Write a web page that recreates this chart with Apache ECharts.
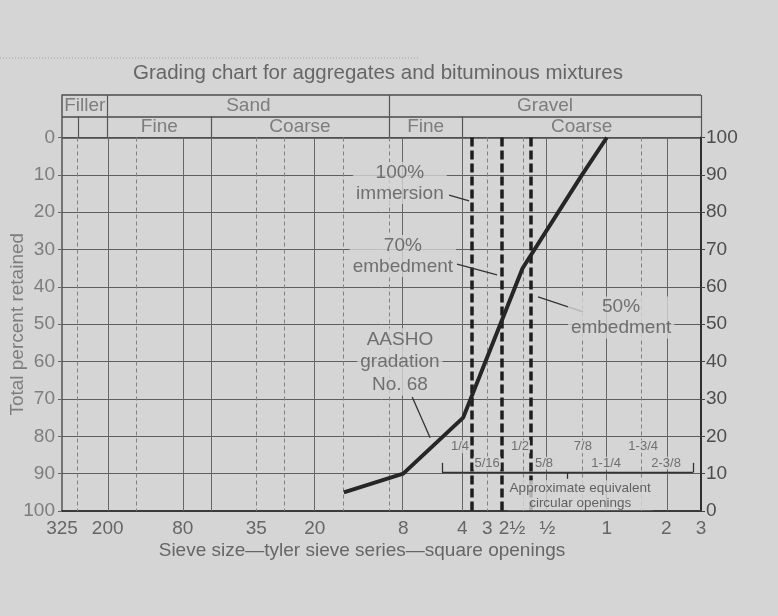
<!DOCTYPE html>
<html>
<head>
<meta charset="utf-8">
<script src="https://cdn.jsdelivr.net/npm/echarts@6/dist/echarts.min.js"></script>
<style>
  html, body { margin: 0; padding: 0; background: #d5d5d5; }
  #chart { width: 778px; height: 616px; }
</style>
</head>
<body>
<div id="chart"></div>
<script>
// Sieve openings are kept in millimetres and plotted on a log scale.
const lg = mm => Math.log10(mm);

// Bottom axis: tyler sieve numbers, then square openings in inches
const sieveLabels = ['325', '200', '80', '35', '20', '8', '4', '3', '2½', '½', '1', '2', '3'];
const sieveLabelMm = [0.044, 0.075, 0.18, 0.425, 0.84, 2.36, 4.7, 6.3, 8.4, 12.7, 25.4, 50.8, 76.2];

// Percent scales (retained on the left, passing on the right)
const retainedTicks = [0, 10, 20, 30, 40, 50, 60, 70, 80, 90, 100];

// AASHO gradation No. 68: sieve opening (mm) and total percent retained
const gradationMm = [1.18, 2.36, 4.75, 9.5, 19.0, 25.4];
const gradationRetained = [95, 90, 75, 35, 10, 0];

// Vertical rulings of the chart paper (mm)
const solidRulingMm = [0.075, 0.18, 0.25, 0.84, 2.36, 4.7, 12.7, 25.4, 50.8];
const dashedRulingMm = [0.053, 0.105, 0.425, 0.59, 1.17, 2.0, 6.3, 9.5, 19.0, 38.1];

// Size limits for the coating conditions (mm)
const coatingLimitMm = [5.25, 7.35, 10.5];

// Approximate equivalent circular openings (inches) and where they sit (mm)
const circularLabels = ['1/4', '1/2', '7/8', '1-3/4', '5/16', '5/8', '1-1/4', '2-3/8'];
const circularLabelMm = [4.58, 9.22, 19.2, 38.8, 6.28, 12.2, 25.2, 50.7];

// Size classes shown in the header band
const classNames = ['Filler', 'Sand', 'Gravel'];
const classLimitsMm = [0.044, 0.075, 2.0, 76.2];
const subclassNames = ['Fine', 'Coarse', 'Fine', 'Coarse'];
const subclassLimitsMm = [0.075, 0.25, 2.0, 4.7, 76.2];

const BG = '#d5d5d5';
const FONT = 'Liberation Sans, Arial, sans-serif';
const xMin = lg(sieveLabelMm[0]);
const xMax = lg(sieveLabelMm[sieveLabelMm.length - 1]);
const sieveTickPos = sieveLabelMm.map(lg);

const mid = (a, b) => (lg(a) + lg(b)) / 2;

const headerLabels = classNames.map((n, i) => ({
  name: n, value: [mid(classLimitsMm[i], classLimitsMm[i + 1]), 0.5]
})).concat(subclassNames.map((n, i) => ({
  name: n, value: [mid(subclassLimitsMm[i], subclassLimitsMm[i + 1]), 1.5]
})));

const vLine = (x, y0, y1) => [{ coord: [x, y0] }, { coord: [x, y1] }];
const seg = (x0, y0, x1, y1) => [{ coord: [x0, y0] }, { coord: [x1, y1] }];

const blank = { show: false };
const plainLine = (extra) => Object.assign({
  type: 'line', data: [], silent: true, symbol: 'none'
}, extra);

const annotationLabel = {
  show: true, position: 'inside', formatter: '{b}',
  color: '#555', fontSize: 19, lineHeight: 21, fontFamily: FONT,
  backgroundColor: BG, padding: [0, 3]
};

const option = {
  backgroundColor: BG,
  animation: false,
  textStyle: { fontFamily: FONT },
  title: {
    text: 'Grading chart for aggregates and bituminous mixtures',
    left: 133, top: 63, padding: 0,
    textStyle: { fontSize: 20.5, fontWeight: 'normal', color: '#666', fontFamily: FONT }
  },
  graphic: [{
    type: 'line', shape: { x1: 0, y1: 58, x2: 420, y2: 58 }, silent: true,
    style: { stroke: '#a0a0a0', lineWidth: 1, lineDash: [1, 2] }
  }],
  grid: [
    { left: 62, right: 77, top: 137.5, height: 373.5, outerBoundsMode: 'none', containLabel: false },
    { left: 62, right: 77, top: 95, height: 42.5, outerBoundsMode: 'none', containLabel: false }
  ],
  xAxis: [{
    type: 'value', gridIndex: 0, min: xMin, max: xMax,
    name: 'Sieve size—tyler sieve series—square openings',
    nameLocation: 'middle', nameGap: 30, nameMoveOverlap: false,
    nameTextStyle: { fontSize: 19, color: '#666', padding: [0, 39, 0, 0] },
    axisLine: { show: true, onZero: false, lineStyle: { color: '#3a3a3a', width: 2 } },
    axisTick: { show: false },
    splitLine: { show: false },
    axisLabel: {
      customValues: sieveTickPos, margin: 8, fontSize: 19, color: '#666',
      formatter: v => {
        const i = sieveTickPos.findIndex(p => Math.abs(p - v) < 1e-9);
        return i >= 0 ? sieveLabels[i] : '';
      }
    }
  }, {
    type: 'value', gridIndex: 1, min: xMin, max: xMax, show: false,
    axisLine: { onZero: false }
  }],
  yAxis: [{
    type: 'value', gridIndex: 0, inverse: true, min: 0, max: 100, interval: 10,
    name: 'Total percent retained', nameLocation: 'middle', nameGap: 35,
    nameMoveOverlap: false,
    nameTextStyle: { fontSize: 19, color: '#7d7d7d' },
    axisLine: { show: true, onZero: false, lineStyle: { color: '#555', width: 1.5 } },
    axisTick: { show: true, length: 4, lineStyle: { color: '#666' } },
    axisLabel: { margin: 7, fontSize: 19, color: '#7d7d7d' },
    splitLine: { show: true, lineStyle: { color: '#5e5e5e', width: 1 } }
  }, {
    type: 'value', gridIndex: 0, position: 'right', min: 0, max: 100, interval: 10,
    axisLine: { show: true, onZero: false, lineStyle: { color: '#2e2e2e', width: 2 } },
    axisTick: { show: true, length: 4, lineStyle: { color: '#444' } },
    axisLabel: { margin: 5, fontSize: 19, color: '#4d4d4d' },
    splitLine: { show: false }
  }, {
    type: 'value', gridIndex: 1, inverse: true, min: 0, max: 2, interval: 1,
    axisLine: { show: true, onZero: false, lineStyle: { color: '#555', width: 1.5 } },
    axisTick: { show: false }, axisLabel: { show: false },
    splitLine: { show: true, lineStyle: { color: '#4a4a4a', width: 1.5 } }
  }],
  series: [
    // header band: class names
    {
      type: 'scatter', xAxisIndex: 1, yAxisIndex: 2, symbolSize: 0, silent: true,
      data: headerLabels,
      label: { show: true, position: 'inside', formatter: '{b}', fontSize: 19, color: '#666' }
    },
    // header band: dividers
    plainLine({
      xAxisIndex: 1, yAxisIndex: 2,
      markLine: {
        silent: true, symbol: 'none', label: blank,
        lineStyle: { color: '#555', width: 1.2, type: 'solid' },
        data: [
          vLine(lg(classLimitsMm[1]), 0, 1),
          vLine(lg(classLimitsMm[2]), 0, 1),
          vLine(lg(subclassLimitsMm[0]), 1, 2),
          vLine(lg(subclassLimitsMm[1]), 1, 2),
          vLine(lg(subclassLimitsMm[2]), 1, 2),
          vLine(lg(subclassLimitsMm[3]), 1, 2),
          Object.assign(vLine(lg(0.053), 1, 2), { lineStyle: { color: '#777', type: [3, 2], width: 1 } }),
          Object.assign(vLine(xMax, 0, 2), { lineStyle: { color: '#2e2e2e', width: 2 } })
        ]
      }
    }),
    // chart paper rulings
    plainLine({
      xAxisIndex: 0, yAxisIndex: 0,
      markLine: {
        silent: true, symbol: 'none', label: blank,
        lineStyle: { color: '#666', width: 1, type: 'solid' },
        data: solidRulingMm.map(m => ({ xAxis: lg(m) }))
      }
    }),
    plainLine({
      xAxisIndex: 0, yAxisIndex: 0,
      markLine: {
        silent: true, symbol: 'none', label: blank,
        lineStyle: { color: '#808080', width: 1, type: [4, 3] },
        data: dashedRulingMm.map(m => ({ xAxis: lg(m) }))
      }
    }),
    // coating-condition limits
    plainLine({
      xAxisIndex: 0, yAxisIndex: 0, z: 3,
      markLine: {
        silent: true, symbol: 'none', label: blank,
        lineStyle: { color: '#1e1e1e', width: 3.5, type: [9, 4] },
        data: coatingLimitMm.map(m => ({ xAxis: lg(m) }))
      }
    }),
    // bracket over the circular-opening equivalents and leader lines
    plainLine({
      xAxisIndex: 0, yAxisIndex: 0, z: 4,
      markLine: {
        silent: true, symbol: 'none', label: blank,
        lineStyle: { color: '#333', width: 1.3, type: 'solid' },
        data: [
          seg(lg(3.71), 89.7, lg(69.4), 89.7),
          seg(lg(3.71), 87.1, lg(3.71), 89.7),
          seg(lg(69.4), 87.1, lg(69.4), 89.7),
          seg(lg(15.96), 89.7, lg(15.96), 91.4),
          seg(lg(4.03), 15.4, lg(5.09), 17.0),
          seg(lg(4.42), 33.9, lg(7.05), 36.8),
          seg(lg(11.38), 42.7, lg(19.24), 46.7),
          seg(lg(2.62), 69.5, lg(3.23), 80.4)
        ]
      }
    }),
    // AASHO gradation No. 68
    {
      type: 'line', xAxisIndex: 0, yAxisIndex: 0, z: 6, silent: true,
      symbol: 'none',
      lineStyle: { color: '#262626', width: 4 },
      data: gradationMm.map((m, i) => [lg(m), gradationRetained[i]])
    },
    // annotations
    {
      type: 'scatter', xAxisIndex: 0, yAxisIndex: 0, symbolSize: 0, silent: true, z: 5,
      label: annotationLabel,
      data: [
        { name: '100%\nimmersion', value: [lg(2.27), 12.2] },
        { name: '70%\nembedment', value: [lg(2.35), 31.7] },
        { name: '50%\nembedment', value: [lg(29.98), 48.2] },
        { name: 'AASHO\ngradation\nNo. 68', value: [lg(2.27), 60.1], label: { lineHeight: 22.5 } },
        {
          name: 'Approximate equivalent\ncircular openings', value: [lg(18.6), 95.8],
          label: { fontSize: 13.5, lineHeight: 15, color: '#444', padding: [0, 2] }
        }
      ]
    },
    {
      type: 'scatter', xAxisIndex: 0, yAxisIndex: 0, symbolSize: 0, silent: true, z: 5,
      label: {
        show: true, position: 'inside', formatter: '{b}', fontSize: 13,
        color: '#555', backgroundColor: BG, padding: [0, 1]
      },
      data: circularLabels.map((n, i) => ({ name: n, value: [lg(circularLabelMm[i]), i < 4 ? 82.8 : 87.2] }))
    }
  ]
};

const chart = echarts.init(document.getElementById('chart'), null, { renderer: 'canvas' });
chart.setOption(option);
</script>
</body>
</html>
